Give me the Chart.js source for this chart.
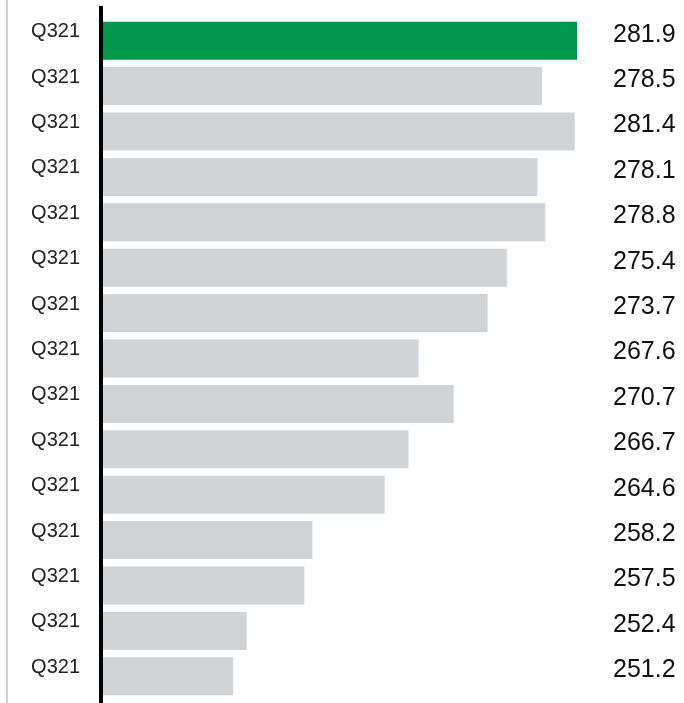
<!DOCTYPE html>
<html>
<head>
<meta charset="utf-8">
<script src="https://cdn.jsdelivr.net/npm/chart.js@4/dist/chart.umd.min.js"></script>
<style>
  body { margin:0; background:#fff; }
  canvas { display:block; }
</style>
</head>
<body>
<canvas id="barChart" width="684" height="703"></canvas>
<script>
const quarters = ["Q321","Q321","Q321","Q321","Q321","Q321","Q321","Q321","Q321","Q321","Q321","Q321","Q321","Q321","Q321"];
const values = [281.9, 278.5, 281.4, 278.1, 278.8, 275.4, 273.7, 267.6, 270.7, 266.7, 264.6, 258.2, 257.5, 252.4, 251.2];
const valueLabels = values.map(v => v.toFixed(1));
const barColors = values.map((v, i) => i === 0 ? "#00994c" : "#d1d4d7");

// thin grey frame line on the left and the thick black axis line
const axisLines = {
  id: 'axisLines',
  afterDraw(chart) {
    const ctx = chart.ctx;
    const left = chart.chartArea.left;
    ctx.save();
    ctx.fillStyle = '#cfcfcf';
    ctx.fillRect(6, 0, 2, chart.height);
    ctx.fillStyle = '#000';
    ctx.fillRect(left - 4, 6, 4, chart.height - 6);
    ctx.restore();
  }
};

// fixed axis width, and no extra space above/below from tick padding
function fitAxis(width) {
  return function(scale) {
    scale.width = width;
    scale.paddingTop = 0;
    scale.paddingBottom = 0;
  };
}

new Chart(document.getElementById("barChart"), {
  type: 'bar',
  data: {
    labels: quarters,
    datasets: [{
      data: values,
      backgroundColor: barColors,
      borderWidth: 0,
      categoryPercentage: 1,
      barPercentage: 0.838
    }]
  },
  options: {
    indexAxis: 'y',
    responsive: false,
    animation: false,
    layout: { padding: { top: 18, bottom: 4, left: 0, right: 0 } },
    plugins: { legend: { display: false }, tooltip: { enabled: false } },
    scales: {
      x: { display: false, min: 239.7, max: 281.6 },
      y: {
        position: 'left',
        grid: { display: false, drawTicks: false },
        border: { display: false },
        ticks: {
          padding: 23,
          labelOffset: -9,
          color: '#222',
          font: { family: 'Liberation Sans', size: 20 }
        },
        afterFit: fitAxis(103)
      },
      y2: {
        type: 'category',
        position: 'right',
        labels: valueLabels,
        offset: true,
        grid: { display: false, drawTicks: false },
        border: { display: false },
        ticks: {
          padding: 36,
          labelOffset: -6,
          color: '#111',
          font: { family: 'Liberation Sans', size: 25 }
        },
        afterFit: fitAxis(107)
      }
    }
  },
  plugins: [axisLines]
});
</script>
</body>
</html>
